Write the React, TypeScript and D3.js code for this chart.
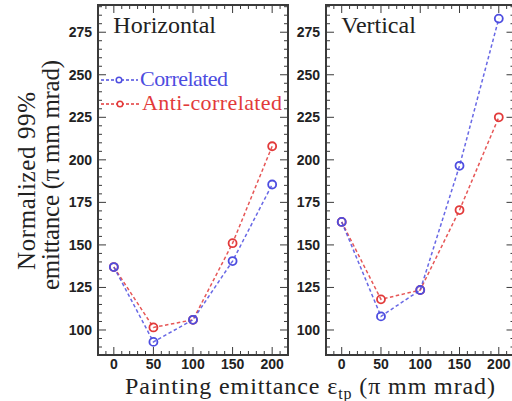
import React, { useRef, useEffect } from 'react';
import * as d3 from 'd3';

// painting emittance (x) values
const paintingEmittance = [0, 50, 100, 150, 200];

// Horizontal plane
const horizontalCorrelated = [137, 93, 106, 140.5, 185.5];
const horizontalAnti = [137, 101.5, 106, 151, 208];

// Vertical plane
const verticalCorrelated = [163.5, 108, 123.5, 196.5, 283];
const verticalAnti = [163.5, 118, 123.5, 170.5, 225];

const xTicks = [0, 50, 100, 150, 200];
const yTicks = [100, 125, 150, 175, 200, 225, 250, 275];

const panels = [
  { title: 'Horizontal', corr: horizontalCorrelated, anti: horizontalAnti, left: 98, right: 288, legend: true },
  { title: 'Vertical', corr: verticalCorrelated, anti: verticalAnti, left: 326, right: 514.5, legend: false },
];

const BLUE = '#4d4de0';
const RED = '#e23a3a';
const FRAME = '#3a3a3a';

export default function App() {
  const svgRef = useRef<SVGSVGElement>(null);

  useEffect(() => {
    if (!svgRef.current) return;
    const svg = d3.select(svgRef.current);
    svg.selectAll('*').remove();

    const top = 5;
    const bottom = 355;
    const yScale = d3.scaleLinear().domain([85.3, 291]).range([bottom, top]);
    const serif = '"Liberation Serif", "DejaVu Serif", serif';
    const sans = '"Liberation Sans", Arial, sans-serif';

    panels.forEach(p => {
      const xScale = d3.scaleLinear().domain([-20, 220]).range([p.left, p.right]);
      const g = svg.append('g');

      // minor / major ticks on all four sides (pointing inward)
      const xMinor = d3.range(-20, 221, 10);
      const yMinor = d3.range(90, 291, 5);
      const tickG = g.append('g').attr('stroke', FRAME).attr('stroke-width', 1);
      xMinor.forEach(v => {
        const len = v % 50 === 0 ? 8 : 4;
        const x = xScale(v);
        tickG.append('line').attr('x1', x).attr('x2', x).attr('y1', bottom).attr('y2', bottom - len);
        tickG.append('line').attr('x1', x).attr('x2', x).attr('y1', top).attr('y2', top + len);
      });
      yMinor.forEach(v => {
        const len = v % 25 === 0 ? 8 : 4;
        const y = yScale(v);
        tickG.append('line').attr('x1', p.left).attr('x2', p.left + len).attr('y1', y).attr('y2', y);
        tickG.append('line').attr('x1', p.right).attr('x2', p.right - len).attr('y1', y).attr('y2', y);
      });

      // frame
      g.append('rect')
        .attr('x', p.left).attr('y', top)
        .attr('width', p.right - p.left).attr('height', bottom - top)
        .attr('fill', 'none').attr('stroke', FRAME).attr('stroke-width', 2);

      // tick labels
      g.selectAll('.xl').data(xTicks).enter().append('text')
        .attr('x', d => xScale(d)).attr('y', 369)
        .attr('text-anchor', 'middle')
        .style('font-family', sans).style('font-weight', 'bold').style('font-size', '14px')
        .attr('fill', '#222')
        .text(d => d);
      g.selectAll('.yl').data(yTicks).enter().append('text')
        .attr('x', p.left - 6).attr('y', d => yScale(d) + 5)
        .attr('text-anchor', 'end')
        .style('font-family', sans).style('font-weight', 'bold').style('font-size', '14px')
        .attr('fill', '#222')
        .text(d => d);

      // title
      g.append('text')
        .attr('x', xScale(0) - 0.5).attr('y', 33)
        .style('font-family', serif).style('font-size', '24px')
        .attr('fill', '#222')
        .text(p.title);

      // series
      const series = [
        { vals: p.anti, color: RED },
        { vals: p.corr, color: BLUE },
      ];
      series.forEach(s => {
        const pts = paintingEmittance.map((x, i) => [x, s.vals[i]] as [number, number]);
        const line = d3.line<[number, number]>()
          .x(d => xScale(d[0]))
          .y(d => yScale(d[1]));
        g.append('path')
          .datum(pts)
          .attr('d', line)
          .attr('fill', 'none')
          .attr('stroke', s.color)
          .attr('stroke-width', 1.5)
          .attr('stroke-dasharray', '3.5,2.5')
          .attr('opacity', 0.85);
        g.selectAll(null).data(pts).enter().append('circle')
          .attr('cx', d => xScale(d[0]))
          .attr('cy', d => yScale(d[1]))
          .attr('r', 4)
          .attr('fill', 'none')
          .attr('stroke', s.color)
          .attr('stroke-width', 1.8);
      });

      // legend
      if (p.legend) {
        const items = [
          { label: 'Correlated', color: BLUE, y: 80, x: 140, len: 88 },
          { label: 'Anti-correlated', color: RED, y: 104, x: 142, len: 140 },
        ];
        items.forEach(it => {
          g.append('line')
            .attr('x1', p.left + 3).attr('x2', it.x - 2)
            .attr('y1', it.y).attr('y2', it.y)
            .attr('stroke', it.color).attr('stroke-width', 1.5)
            .attr('stroke-dasharray', '3,2');
          g.append('circle')
            .attr('cx', (p.left + it.x) / 2).attr('cy', it.y).attr('r', 2.8)
            .attr('fill', 'white').attr('stroke', it.color).attr('stroke-width', 1.5);
          g.append('text')
            .attr('x', it.x).attr('y', it.y + 6)
            .attr('textLength', it.len)
            .style('font-family', serif).style('font-size', '22px')
            .attr('fill', it.color)
            .text(it.label);
        });
      }
    });

    // y-axis label (two lines)
    svg.append('text')
      .attr('transform', 'translate(35,181) rotate(-90)')
      .attr('text-anchor', 'middle')
      .attr('textLength', 178)
      .style('font-family', serif).style('font-size', '25px')
      .attr('fill', '#222')
      .text('Normalized 99%');
    svg.append('text')
      .attr('transform', 'translate(59,175) rotate(-90)')
      .attr('text-anchor', 'middle')
      .attr('textLength', 230)
      .style('font-family', serif).style('font-size', '25px')
      .attr('fill', '#222')
      .text('emittance (π mm mrad)');

    // x-axis label
    const xLab = svg.append('text')
      .attr('x', 310).attr('y', 394)
      .attr('text-anchor', 'middle')
      .style('font-family', serif).style('font-size', '24px')
      .attr('fill', '#222');
    xLab.append('tspan').text('Painting emittance ε');
    xLab.append('tspan').attr('dy', 5).style('font-size', '16px').text('tp');
    xLab.append('tspan').attr('dy', -5).text(' (π mm mrad)');
    xLab.attr('textLength', 370);
  }, []);

  return (
    <svg
      ref={svgRef}
      width={512}
      height={401}
      style={{ position: 'absolute', left: 0, top: 0, background: 'white' }}
    />
  );
}
